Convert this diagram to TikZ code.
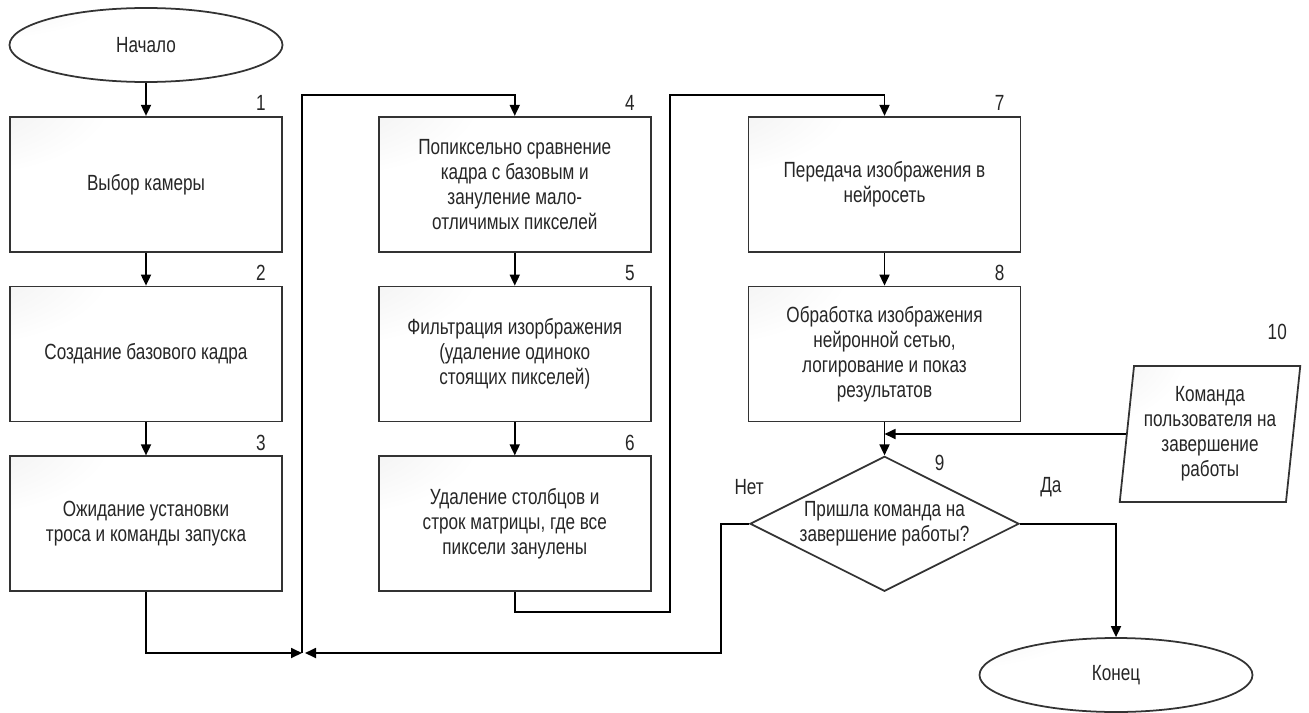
\documentclass[tikz,border=0pt]{standalone}
\usepackage{fontspec}
\setmainfont[FakeStretch=0.78]{Liberation Sans}
\usetikzlibrary{positioning,shapes.geometric,arrows.meta}
\pgfdeclareradialshading{cornerglow}{\pgfpoint{-42bp}{38bp}}{color(0bp)=(black!9); color(28bp)=(white); color(150bp)=(white)}

\begin{document}
\begin{tikzpicture}[
font=\fontsize{12.5}{14.2}\selectfont,
every node/.style={text=black!85},
arr/.style={line width=1pt,-{Triangle[length=2.2mm,width=2mm]}},
shaded/.style={draw=black!80,line width=1pt,shading=cornerglow},
proc/.style={shaded,rectangle,minimum width=5.44cm,minimum height=2.7cm,align=center,inner sep=0pt},
term/.style={shaded,ellipse,minimum width=5.46cm,minimum height=1.48cm,inner sep=0pt},
cond/.style={draw=black!80,line width=1pt,fill=white,diamond,aspect=2,minimum width=5.38cm,minimum height=2.7cm,align=center,inner sep=0pt},
inp/.style={shaded,trapezium,trapezium left angle=82.5,trapezium right angle=97.5,trapezium stretches=true,minimum width=3.64cm,minimum height=2.72cm,align=center,inner sep=0pt},
num/.style={anchor=south east,inner sep=1pt}]
\useasboundingbox (0,0) rectangle (26.18,-14.26);

% first column
\node[term] (start) at (2.92,-0.9) {Начало};
\node[proc,below=0.66cm of start] (b1) {Выбор камеры};
\node[proc,below=0.66cm of b1] (b2) {Создание базового кадра};
\node[proc,below=0.66cm of b2] (b3) {Ожидание установки\\троса и команды запуска};

% second column
\node[proc,right=1.9cm of b1] (b4) {Попиксельно сравнение\\кадра с базовым и\\зануление мало-\\отличимых пикселей};
\node[proc,below=0.66cm of b4] (b5) {Фильтрация изорбражения\\(удаление одиноко\\стоящих пикселей)};
\node[proc,below=0.66cm of b5] (b6) {Удаление столбцов и\\строк матрицы, где все\\пиксели занулены};

% third column
\node[proc,right=1.92cm of b4] (b7) {Передача изображения в\\нейросеть};
\node[proc,below=0.66cm of b7] (b8) {Обработка изображения\\нейронной сетью,\\логирование и показ\\результатов};
\node[cond,below=0.66cm of b8] (d9) {Пришла команда на\\завершение работы?};
\node[inp] (p10) at (24.2,-8.68) {Команда\\пользователя на\\завершение\\работы};
\node[term] (end) at (22.32,-13.5) {Конец};

% numbers
\node[num] at ([xshift=-0.3cm,yshift=0.06cm]b1.north east) {1};
\node[num] at ([xshift=-0.3cm,yshift=0.06cm]b2.north east) {2};
\node[num] at ([xshift=-0.3cm,yshift=0.06cm]b3.north east) {3};
\node[num] at ([xshift=-0.3cm,yshift=0.06cm]b4.north east) {4};
\node[num] at ([xshift=-0.3cm,yshift=0.06cm]b5.north east) {5};
\node[num] at ([xshift=-0.3cm,yshift=0.06cm]b6.north east) {6};
\node[num] at ([xshift=-0.3cm,yshift=0.06cm]b7.north east) {7};
\node[num] at ([xshift=-0.3cm,yshift=0.06cm]b8.north east) {8};
\node (n9) at ([xshift=1.1cm,yshift=-0.16cm]d9.north) {9};
\node (n10) at ([xshift=-0.48cm,yshift=0.66cm]p10.top right corner) {10};
\node (no) at ([yshift=0.74cm]d9.west) {Нет};
\node (yes) at ([xshift=0.62cm,yshift=0.74cm]d9.east) {Да};

\coordinate (m) at (6.04,-13.06);

% connectors
\draw[arr] (start) -- (b1);
\draw[arr] (b1) -- (b2);
\draw[arr] (b2) -- (b3);
\draw[arr] (b4) -- (b5);
\draw[arr] (b5) -- (b6);
\draw[arr] (b7) -- (b8);
\draw[arr] (b8) -- (d9);
\draw[arr] (b3.south) |- (m);
\draw[arr] (d9.west) -- ++(-0.56,0) |- ([xshift=0.06cm]m);
\draw[arr] (m) -- ++(0,11.16) -| (b4.north);
\draw[arr] (b6.south) -- ++(0,-0.4) -| (13.4,-1.9) -| (b7.north);
\draw[arr] (p10.west) -- (p10.west -| d9.north);
\draw[arr] (d9.east) -| (end.north);
\end{tikzpicture}
\end{document}
